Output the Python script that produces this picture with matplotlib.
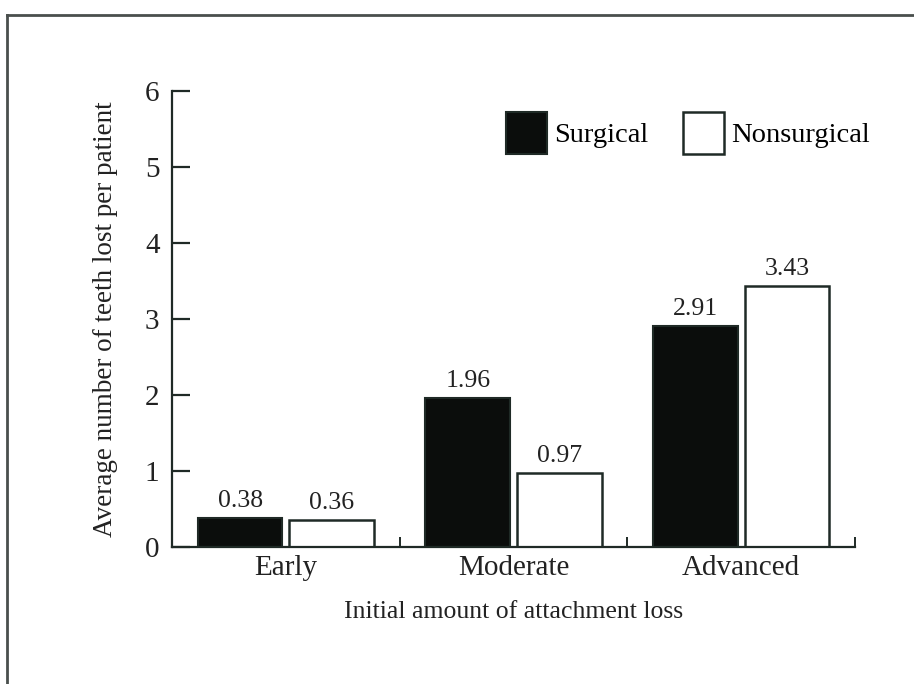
import numpy as np
import matplotlib
matplotlib.use("Agg")
import matplotlib.pyplot as plt
from matplotlib.lines import Line2D

plt.rcParams['font.family'] = ['Liberation Serif', 'DejaVu Serif']

categories = ["Early", "Moderate", "Advanced"]
surgical = [0.38, 1.96, 2.91]
nonsurgical = [0.36, 0.97, 3.43]
y_ticks = [0, 1, 2, 3, 4, 5, 6]

ink = "#1f2a26"

fig = plt.figure(figsize=(9.14, 6.84), dpi=100)
ax = fig.add_axes([172 / 914, 1 - 547 / 684, 683 / 914, 456 / 684])

x = np.arange(len(categories))
w = 0.372
gap = 0.015
b1 = ax.bar(x - w / 2 - gap, surgical, w, color="#0b0d0c", edgecolor=ink,
            linewidth=1.5, label="Surgical")
b2 = ax.bar(x + w / 2 + gap, nonsurgical, w, color="white", edgecolor=ink,
            linewidth=1.8, label="Nonsurgical")

for bars, vals in ((b1, surgical), (b2, nonsurgical)):
    for r, v in zip(bars, vals):
        ax.text(r.get_x() + r.get_width() / 2, v + 0.08, f"{v:.2f}",
                ha="center", va="bottom", fontsize=18.5, color="#222")

ax.set_xlim(-0.5, 2.5)
ax.set_ylim(0, 6)
ax.set_yticks(y_ticks)
ax.set_xticks(x)
ax.set_xticklabels(categories)
ax.set_xticks([0.5, 1.5, 2.5], minor=True)

ax.spines[['top', 'right']].set_visible(False)
for s in ('left', 'bottom'):
    ax.spines[s].set_color(ink)
    ax.spines[s].set_linewidth(1.6)

ax.tick_params(axis='y', direction='in', length=13, width=1.6, color=ink,
               labelsize=21, pad=9, labelcolor="#222")
ax.tick_params(axis='x', which='major', length=0, labelsize=21, pad=6,
               labelcolor="#222")
ax.tick_params(axis='x', which='minor', direction='in', length=7, width=1.4,
               color=ink)

ax.set_xlabel("Initial amount of attachment loss", fontsize=18.5, color="#222",
              labelpad=14)
ax.set_ylabel("Average number of teeth lost per patient", fontsize=19.5,
              color="#222")
ax.yaxis.set_label_coords(-0.079, 0.5)

fig.legend(handles=[b1, b2], loc="upper left",
           bbox_to_anchor=(506 / 914, 1 - 112 / 684), ncol=2, frameon=False,
           fontsize=20.5, handlelength=1.45, handleheight=1.9,
           handletextpad=0.25, columnspacing=1.2, borderpad=0,
           borderaxespad=0)

# outer frame (top and left edges visible)
fig.add_artist(Line2D([7 / 914, 1.0], [1 - 15 / 684, 1 - 15 / 684],
                      transform=fig.transFigure, color="#4a4f4d", lw=2))
fig.add_artist(Line2D([7 / 914, 7 / 914], [0, 1 - 15 / 684],
                      transform=fig.transFigure, color="#4a4f4d", lw=2))

fig.savefig("out.png", dpi=100)
